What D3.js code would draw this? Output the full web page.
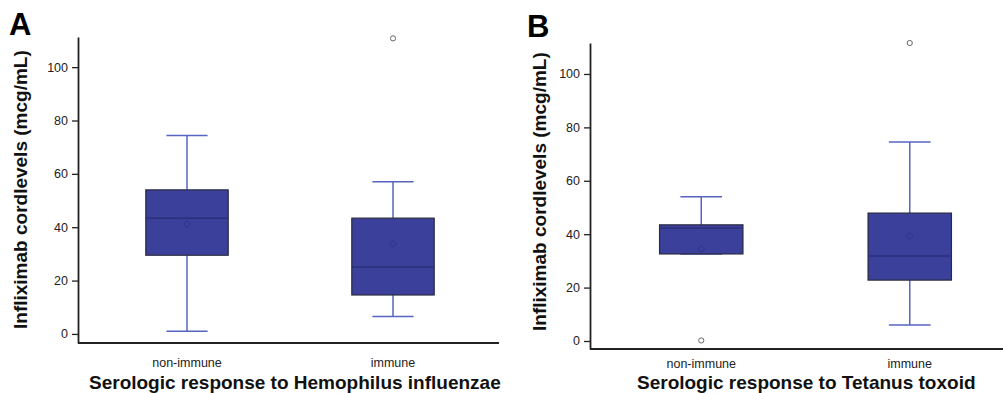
<!DOCTYPE html>
<html>
<head>
<meta charset="utf-8">
<script src="https://cdn.jsdelivr.net/npm/d3@7"></script>
<style>
  body { margin: 0; background: #fff; }
  svg { display: block; font-family: "Liberation Sans", Arial, sans-serif; }
</style>
</head>
<body>
<div id="chart"></div>
<script>
// categories
const groups = ['non-immune', 'immune'];
const yTicks = [0, 20, 40, 60, 80, 100];

// panel A : Hemophilus influenzae
const hibQ1 = [29.5, 14.6];
const hibMedian = [43.4, 25.1];
const hibQ3 = [54, 43.4];
const hibLow = [1, 6.5];
const hibHigh = [74.4, 57];
const hibMean = [41.2, 33.8];
const hibOutliers = [[], [110.8]];

// panel B : Tetanus toxoid
const tetQ1 = [32.6, 22.8];
const tetMedian = [42.3, 31.8];
const tetQ3 = [43.5, 47.9];
const tetLow = [32.6, 6];
const tetHigh = [54, 74.5];
const tetMean = [34.5, 39.3];
const tetOutliers = [[0.2], [111.6]];

const width = 1003, height = 393;
const svg = d3.select('#chart').append('svg')
  .attr('width', width)
  .attr('height', height);

function drawPanel(opt) {
  const g = svg.append('g');

  const y = d3.scaleLinear()
    .domain(opt.yDomain)
    .range([opt.bottom, opt.top]);

  const x = d3.scaleBand()
    .domain(groups)
    .range(opt.xRange)
    .paddingInner(0.6)
    .paddingOuter(0.3);

  // axe Y
  const yAxis = g.append('g')
    .attr('transform', `translate(${opt.left},0)`)
    .call(d3.axisLeft(y).tickValues(yTicks).tickSize(6).tickPadding(4).tickSizeOuter(0));
  yAxis.select('.domain').attr('stroke', '#222').attr('stroke-width', 1.8);
  yAxis.selectAll('.tick line').attr('stroke', '#222').attr('stroke-width', 1.3);
  yAxis.selectAll('.tick text').attr('font-size', 12.5).attr('fill', '#222')
    .attr('font-family', '"Liberation Sans", Arial, sans-serif');

  // axe X (ligne + libellés)
  g.append('line')
    .attr('x1', opt.left).attr('x2', opt.right)
    .attr('y1', opt.bottom).attr('y2', opt.bottom)
    .attr('stroke', '#222').attr('stroke-width', 1.8);

  const xAxis = g.append('g')
    .attr('transform', `translate(0,${opt.bottom})`)
    .call(d3.axisBottom(x).tickSize(0).tickPadding(opt.labelPad));
  xAxis.select('.domain').remove();
  xAxis.selectAll('.tick text').attr('font-size', 12.5).attr('fill', '#222')
    .attr('font-family', '"Liberation Sans", Arial, sans-serif');

  const bw = x.bandwidth();
  const whisk = '#5665c2';

  groups.forEach((grp, i) => {
    const cx = x(grp) + bw / 2;

    // moustaches
    g.append('line')
      .attr('x1', cx).attr('x2', cx)
      .attr('y1', y(opt.high[i])).attr('y2', y(opt.q3[i]))
      .attr('stroke', whisk).attr('stroke-width', 1.5);
    g.append('line')
      .attr('x1', cx).attr('x2', cx)
      .attr('y1', y(opt.q1[i])).attr('y2', y(opt.low[i]))
      .attr('stroke', whisk).attr('stroke-width', 1.5);
    [opt.high[i], opt.low[i]].forEach(v => {
      g.append('line')
        .attr('x1', cx - bw / 4).attr('x2', cx + bw / 4)
        .attr('y1', y(v)).attr('y2', y(v))
        .attr('stroke', whisk).attr('stroke-width', 1.5);
    });

    // boîte
    g.append('rect')
      .attr('x', x(grp))
      .attr('y', y(opt.q3[i]))
      .attr('width', bw)
      .attr('height', y(opt.q1[i]) - y(opt.q3[i]))
      .attr('fill', '#3b409a')
      .attr('stroke', '#2a2a40')
      .attr('stroke-width', 1.2);

    // médiane
    g.append('line')
      .attr('x1', x(grp)).attr('x2', x(grp) + bw)
      .attr('y1', y(opt.median[i])).attr('y2', y(opt.median[i]))
      .attr('stroke', '#2c2f7a').attr('stroke-width', 1.5);

    // moyenne (losange)
    g.append('path')
      .attr('d', d3.symbol(d3.symbolDiamond2, 30)())
      .attr('transform', `translate(${cx},${y(opt.mean[i])})`)
      .attr('fill', 'none')
      .attr('stroke', '#2e3288')
      .attr('stroke-width', 1);

    // valeurs aberrantes
    g.selectAll(null)
      .data(opt.outliers[i])
      .enter()
      .append('circle')
      .attr('cx', cx)
      .attr('cy', d => y(d))
      .attr('r', 2.6)
      .attr('fill', '#fff')
      .attr('stroke', '#666')
      .attr('stroke-width', 1);
  });

  // titre axe Y
  g.append('text')
    .attr('transform', 'rotate(-90)')
    .attr('x', -opt.yTitleStart)
    .attr('y', opt.yTitleX)
    .attr('text-anchor', 'start')
    .attr('font-size', 19)
    .attr('font-weight', 'bold')
    .attr('fill', '#111')
    .text('Infliximab cordlevels (mcg/mL)');

  // titre axe X
  g.append('text')
    .attr('x', opt.xTitleX)
    .attr('y', opt.xTitleBase)
    .attr('text-anchor', 'start')
    .attr('font-size', 19)
    .attr('font-weight', 'bold')
    .attr('fill', '#111')
    .text(opt.xTitle);

  // lettre du panneau
  g.append('text')
    .attr('x', opt.letterX)
    .attr('y', opt.letterY)
    .attr('font-size', 31)
    .attr('font-weight', 'bold')
    .attr('fill', '#000')
    .text(opt.letter);
}

drawPanel({
  left: 78, right: 499, top: 37, bottom: 343,
  yDomain: [-3.4, 111.3],
  xRange: [84, 496],
  labelPad: 15,
  q1: hibQ1, median: hibMedian, q3: hibQ3, low: hibLow, high: hibHigh,
  mean: hibMean, outliers: hibOutliers,
  yTitleX: 27, yTitleStart: 329,
  xTitle: 'Serologic response to Hemophilus influenzae',
  xTitleX: 89, xTitleBase: 389,
  letter: 'A', letterX: 9, letterY: 35
});

drawPanel({
  left: 590, right: 1003, top: 43, bottom: 349,
  yDomain: [-3, 111.6],
  xRange: [597, 1014],
  labelPad: 10,
  q1: tetQ1, median: tetMedian, q3: tetQ3, low: tetLow, high: tetHigh,
  mean: tetMean, outliers: tetOutliers,
  yTitleX: 546, yTitleStart: 331,
  xTitle: 'Serologic response to Tetanus toxoid',
  xTitleX: 637, xTitleBase: 389,
  letter: 'B', letterX: 527, letterY: 37
});
</script>
</body>
</html>
